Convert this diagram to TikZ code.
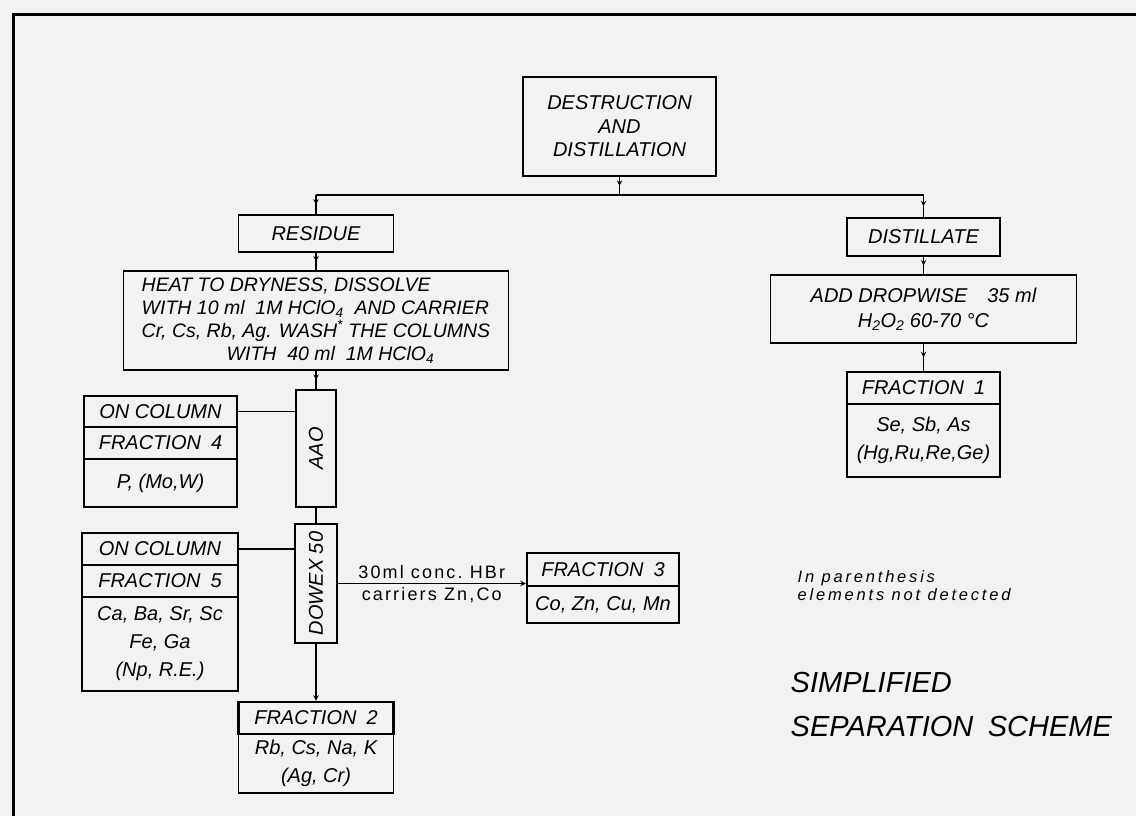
\documentclass[tikz,border=0pt]{standalone}
\usepackage{fontspec}
\setmainfont{Liberation Sans}
\usetikzlibrary{arrows,decorations.markings}

\definecolor{paper}{gray}{0.95}
\newcommand{\lettering}{\fontsize{20}{21}\selectfont\itshape}
\newcommand{\reslettering}{\fontsize{20}{28}\selectfont\itshape}
\newcommand{\notelettering}{\fontsize{16.5}{18}\selectfont\itshape\addfontfeature{LetterSpace=17}}
\newcommand{\steplettering}{\fontsize{18}{20}\selectfont\addfontfeature{LetterSpace=12}}
\newcommand{\titlelettering}{\fontsize{29}{44}\selectfont\itshape}

\tikzset{
  box/.style={draw, line width=1.4pt, inner sep=0pt, align=center, font=\lettering},
  head/.style={box, line width=2.4pt},
  res/.style={box, font=\reslettering},
  flow/.style={postaction={decorate},
    decoration={markings, mark=at position #1 with {\arrow{>}}}},
  flow/.default=0.5
}

\begin{document}
\begin{tikzpicture}[x=1pt, y=-1pt, >=stealth, line width=1.4pt]
  % paper and frame
  \fill[paper] (0,0) rectangle (1136,816);
  \useasboundingbox (0,0) rectangle (1136,816);
  \draw[line width=3pt] (13,816) -- (13,15) -- (1136,15);
  % destruction
  \node[box, minimum width=193, minimum height=99, font=\fontsize{20}{23.5}\selectfont\itshape]
    (dest) at (619.5,126.5) {DESTRUCTION\\AND\\DISTILLATION};
  \coordinate (split) at (619.5,195);
  \node[box, minimum width=155, minimum height=37] (residue) at (316,233.5) {RESIDUE};
  \node[box, minimum width=153, minimum height=38] (distillate) at (923.5,237) {DISTILLATE};
  \draw[flow] (dest) -- (split);
  \draw (residue.north |- split) -- (distillate.north |- split);
  \draw[flow] (residue.north |- split) -- (residue);
  \draw[flow] (distillate.north |- split) -- (distillate);
  % residue
  \node[box, align=left, minimum width=385, minimum height=99, font=\fontsize{19.5}{23}\selectfont\itshape]
    (heat) at (316,320.5) {HEAT TO DRYNESS, DISSOLVE\\
    WITH 10 ml\ \ 1M HClO\textsubscript{4}\ \ AND CARRIER\\
    Cr, Cs, Rb, Ag. WASH\textsuperscript{*} THE COLUMNS\\
    \hspace*{85pt}WITH\ \ 40 ml\ \ 1M HClO\textsubscript{4}};
  \draw[flow] (residue) -- (heat);
  \node[box, minimum width=40, minimum height=117] (aao) at (316,448.5) {\rotatebox{90}{AAO}};
  \draw[flow] (heat) -- (aao);
  % fraction 4
  \node[box, minimum width=153, minimum height=31] (col4) at (160.5,411.5) {ON COLUMN};
  \node[head, minimum width=153, minimum height=32] (frac4) at (160.5,443) {FRACTION\enspace 4};
  \node[res, minimum width=153, minimum height=48] (res4) at (160.5,483) {P, (Mo,W)};
  \draw (col4) -- (col4 -| aao.west);
  % dowex
  \node[box, minimum width=42, minimum height=119] (dowex) at (316,583.5) {\rotatebox{90}{DOWEX 50}};
  \draw (aao) -- (dowex);
  % fraction 5
  \node[box, minimum width=156, minimum height=32] (col5) at (160,549) {ON COLUMN};
  \node[head, minimum width=156, minimum height=32] (frac5) at (160,581) {FRACTION\enspace 5};
  \node[res, minimum width=156, minimum height=94] (res5) at (160,644) {Ca, Ba, Sr, Sc\\Fe, Ga\\(Np, R.E.)};
  \draw (col5) -- (col5 -| dowex.west);
  % fraction 2
  \node[head, minimum width=155, minimum height=32] (frac2) at (316,718) {FRACTION\enspace 2};
  \node[res, minimum width=155, minimum height=59] (res2) at (316,763.5) {Rb, Cs, Na, K\\(Ag, Cr)};
  \draw[->] (dowex) -- (frac2);
  % fraction 3
  \node[head, minimum width=152, minimum height=33] (frac3) at (603,569.5) {FRACTION\enspace 3};
  \node[res, minimum width=152, minimum height=37] (res3) at (603,604.5) {Co, Zn, Cu, Mn};
  \draw[->] (dowex) -- (dowex -| frac3.west)
    node[midway, above, inner sep=4pt, font=\steplettering] {30ml conc.\ HBr}
    node[midway, below, inner sep=3pt, font=\steplettering] {carriers Zn,Co};
  % distillate
  \node[box, minimum width=306, minimum height=68, font=\fontsize{20}{25}\selectfont\itshape]
    (add) at (923.5,309) {ADD DROPWISE\quad 35 ml\\H\textsubscript{2}O\textsubscript{2} 60-70 °C};
  \draw[flow] (distillate) -- (add);
  \node[head, minimum width=153, minimum height=32] (frac1) at (923.5,388) {FRACTION\enspace 1};
  \node[res, minimum width=153, minimum height=73] (res1) at (923.5,440.5) {Se, Sb, As\\(Hg,Ru,Re,Ge)};
  \draw[flow] (add) -- (frac1);
  % legend
  \node[anchor=west, align=left, inner sep=0pt, font=\notelettering] (note) at (797,586)
    {In parenthesis\\elements not detected};
  \node[anchor=west, align=left, inner sep=0pt, font=\titlelettering] (title) at (790,705)
    {SIMPLIFIED\\SEPARATION\enspace SCHEME};
\end{tikzpicture}
\end{document}
